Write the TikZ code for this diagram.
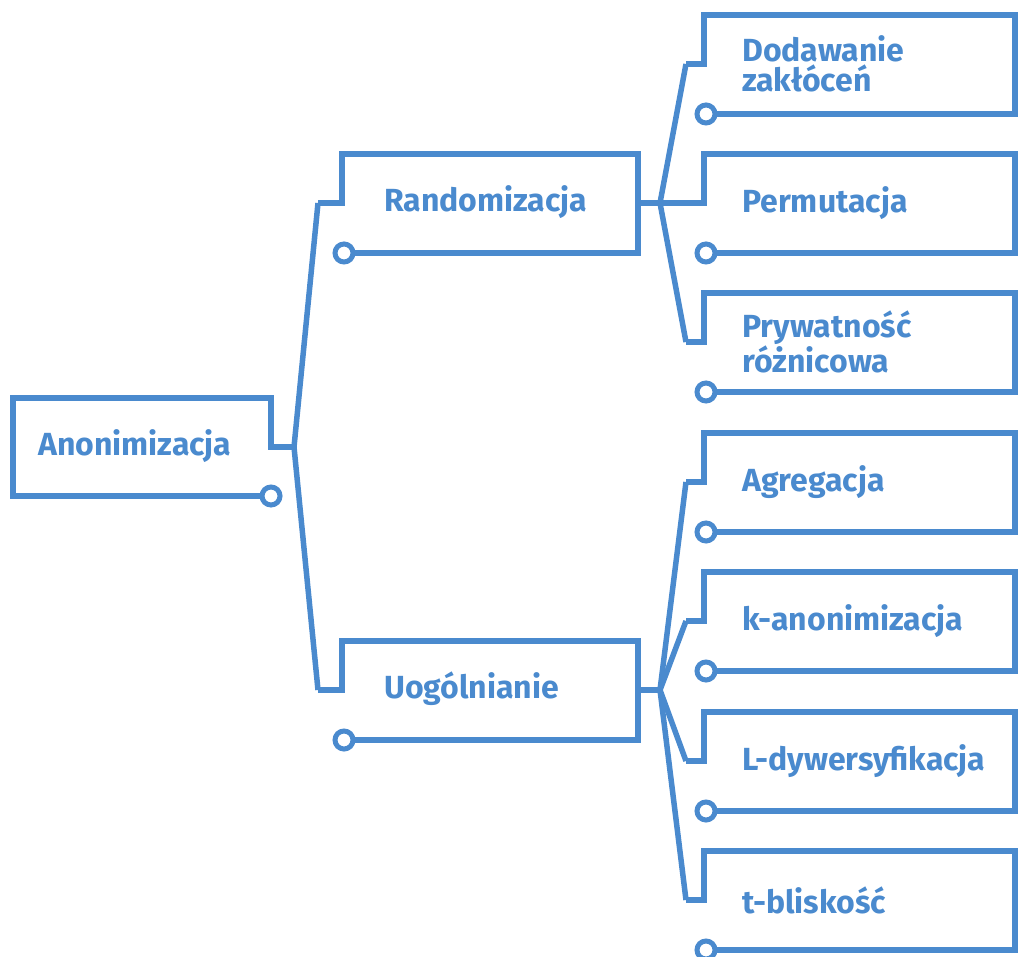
\documentclass[tikz,border=0pt]{standalone}
\usepackage{fontspec}
\setmainfont{Fira Sans}
\usepackage{tikz}
\usetikzlibrary{calc}
\definecolor{anblue}{RGB}{74,138,206}
\tikzset{
  boxline/.style={draw=anblue, line width=5.5pt, line join=miter},
  knob/.style={draw=anblue, line width=5pt, fill=white},
  lbl/.style={text=anblue, font=\fontsize{32}{30}\selectfont\bfseries, anchor=west, align=left, inner sep=0pt},
}
% leaf box: (left,top){name}{text}
\def\leafbox(#1,#2)#3#4{
  \coordinate (#3-in) at (#1-18,#2+49);
  \draw[boxline] (#3-in) -- (#1,#2+49) -- (#1,#2) -- (1015,#2) -- (1015,#2+99) -- (#1+11,#2+99);
  \draw[knob] (#1+2,#2+99) circle (9pt);
  \node[lbl] (#3) at (#1+38,#2+49) {#4};
}

\begin{document}
\begin{tikzpicture}[x=1pt,y=-1pt]
			\useasboundingbox (0,0) rectangle (1020,957);
			%%%%% START %%%%%
			% root
			\coordinate (anon-out) at (294,447);
			\draw[boxline] (anon-out) -- (271,447) -- (271,398) -- (13,398) -- (13,496) -- (262,496);
			\draw[knob] (271,496) circle (9pt);
			\node[lbl] (anon) at (38,446) {Anonimizacja};
			
			% Randomizacja
			\coordinate (rand-in) at (318,203);
			\coordinate (rand-out) at (660,203);
			\draw[boxline] (rand-in) -- (342,203) -- (342,154) -- (638,154) -- (638,253) -- (353,253);
			\draw[boxline] (638,203) -- (rand-out);
			\draw[knob] (344,253) circle (9pt);
			\node[lbl] (rand) at (384,202) {Randomizacja};
			
			% Uogolnianie
			\coordinate (uog-in) at (318,690);
			\coordinate (uog-out) at (660,690);
			\draw[boxline] (uog-in) -- (342,690) -- (342,641) -- (638,641) -- (638,740) -- (353,740);
			\draw[boxline] (638,690) -- (uog-out);
			\draw[knob] (344,740) circle (9pt);
			\node[lbl] (uog) at (384,689) {Uogólnianie};
			
			\draw[boxline] (anon-out) -- (rand-in);
			\draw[boxline] (anon-out) -- (uog-in);
			
			% leaves
			\leafbox(704,15){dod}{Dodawanie\\zakłóceń}
			\leafbox(704,154){perm}{Permutacja}
			\leafbox(704,293){pryw}{Prywatność\\różnicowa}
			\leafbox(704,433){agr}{Agregacja}
			\leafbox(704,572){kan}{k-anonimizacja}
			\leafbox(704,712){ldyw}{L-dywersyfikacja}
			\leafbox(704,851){tbl}{t-bliskość}
			
			\draw[boxline] (rand-out) -- (dod-in);
			\draw[boxline] (rand-out) -- (perm-in);
			\draw[boxline] (rand-out) -- (pryw-in);
			\draw[boxline] (uog-out) -- (agr-in);
			\draw[boxline] (uog-out) -- (kan-in);
			\draw[boxline] (uog-out) -- (ldyw-in);
			\draw[boxline] (uog-out) -- (tbl-in);
			%%%%% END %%%%%
\end{tikzpicture}
\end{document}
